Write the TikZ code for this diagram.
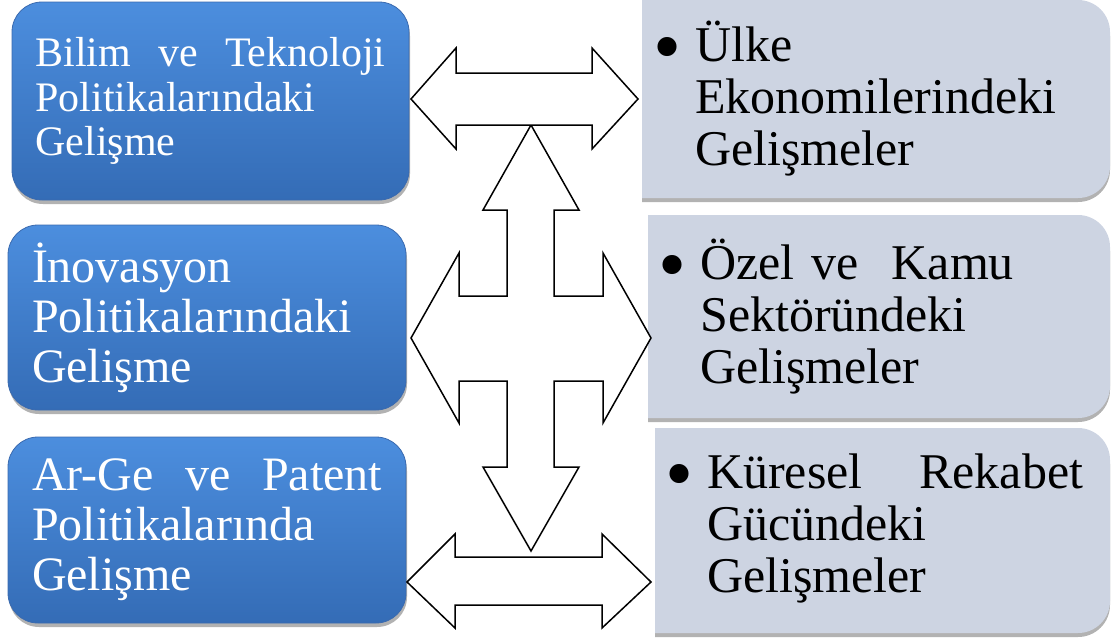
\documentclass[tikz,border=0pt]{standalone}
\usepackage{fontspec}
\setmainfont{Liberation Serif}
\usetikzlibrary{shadows}
\definecolor{bluetop}{RGB}{76,142,222}
\definecolor{bluebot}{RGB}{52,108,182}
\definecolor{blueedge}{RGB}{58,106,175}
\definecolor{greybox}{RGB}{205,212,226}
\newcommand\bulletmark{\llap{\smash{\raisebox{-12pt}{\fontsize{80}{80}\selectfont •}}\hspace{14pt}}}
\newcommand\rightpanel[4]{%
  \fill[rightbg] (#1,#2) -- ({#3-32},#2) arc[start angle=90,end angle=0,radius=32]
    -- (#3,{#4+32}) arc[start angle=0,end angle=-90,radius=32] -- (#1,#4) -- cycle;}
\begin{document}
\begin{tikzpicture}[x=1pt,y=1pt,
  leftbox/.style={rounded corners=30pt, top color=bluetop, bottom color=bluebot,
    draw=blueedge, line width=0.8pt,
    drop shadow={shadow xshift=1pt, shadow yshift=-4pt, opacity=0.3, fill=black},
    inner sep=0pt, text=white, align=left, text width=350pt},
  rightbg/.style={fill=greybox,
    drop shadow={shadow xshift=0pt, shadow yshift=-4pt, opacity=0.3, fill=black}},
  righttext/.style={text=black, align=left, text width=376pt, inner sep=0pt,
    anchor=west, font=\fontsize{50}{52}\selectfont},
  blockarrow/.style={fill=white, draw=black, line width=1.5pt, line join=miter}
]
\useasboundingbox (0,0) rectangle (1112,-640);

% left boxes
\node[leftbox, minimum width=397pt, minimum height=198pt,
  font=\fontsize{42}{44.5}\selectfont] (L1) at (210.5,-101)
  {\makebox[350pt]{Bilim\hfill ve\hfill Teknoloji}\\Politikalarındaki\\Gelişme};
\node[leftbox, minimum width=398pt, minimum height=185pt,
  font=\fontsize{48}{50}\selectfont] (L2) at (207,-317.5)
  {İnovasyon\\Politikalarındaki\\Gelişme};
\node[leftbox, minimum width=398pt, minimum height=186pt,
  font=\fontsize{48}{50}\selectfont] (L3) at (207,-530)
  {\makebox[350pt]{Ar-Ge\hfill ve\hfill Patent}\\Politikalarında\\Gelişme};

% right boxes
\rightpanel{642}{0}{1110}{-198}
\rightpanel{648}{-215}{1110}{-418}
\rightpanel{655}{-428}{1110}{-633}

\node[righttext] (R1) at (695,-99)
  {\bulletmark Ülke\\Ekonomilerindeki\\Gelişmeler};
\node[righttext] (R2) at (700,-316.5)
  {\bulletmark Özel ve\ \ Kamu\\Sektöründeki\\Gelişmeler};
\node[righttext] (R3) at (707,-528)
  {\bulletmark\makebox[376pt]{Küresel\hfill Rekabet}\\Gücündeki\\Gelişmeler};

% cross-shaped arrow
\draw[blockarrow] (531,-125) -- (579,-210) -- (554,-210) -- (554,-296) -- (603,-296)
  -- (603,-253) -- (651,-338) -- (603,-423) -- (603,-381) -- (554,-381) -- (554,-467)
  -- (579,-467) -- (531,-551) -- (483,-467) -- (507,-467) -- (507,-381) -- (459,-381)
  -- (459,-423) -- (411,-338) -- (459,-253) -- (459,-296) -- (507,-296) -- (507,-210)
  -- (483,-210) -- cycle;
% top double arrow
\draw[blockarrow] (411,-99) -- (456,-48) -- (456,-73) -- (592,-73) -- (592,-48)
  -- (638,-99) -- (592,-149) -- (592,-125) -- (456,-125) -- (456,-149) -- cycle;
% bottom double arrow
\draw[blockarrow] (407,-582) -- (455,-534) -- (455,-557) -- (602,-557) -- (602,-534)
  -- (651,-582) -- (602,-628) -- (602,-605) -- (455,-605) -- (455,-628) -- cycle;
\end{tikzpicture}
\end{document}
